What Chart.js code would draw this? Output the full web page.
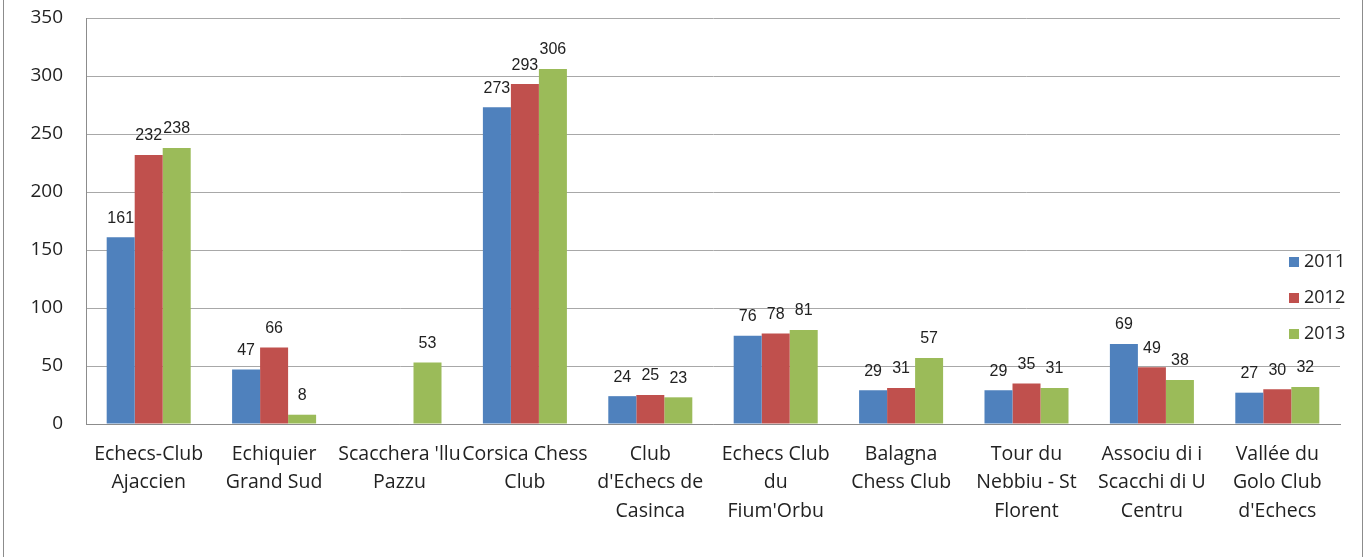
<!DOCTYPE html>
<html>
<head>
<meta charset="utf-8">
<script src="https://cdn.jsdelivr.net/npm/chart.js@4/dist/chart.umd.min.js"></script>
<style>
  html, body { margin: 0; padding: 0; background: #fff; }
  #wrap { position: relative; width: 1366px; height: 557px; }
  #frame { position: absolute; left: 3px; top: 0; width: 1358px; height: 557px;
           border-left: 1px solid #8c8c8c; border-right: 1px solid #8c8c8c; pointer-events: none; }
</style>
</head>
<body>
<div id="wrap">
  <canvas id="chess_canvas" width="1366" height="557"></canvas>
  <div id="frame"></div>
</div>
<script>
const clubs = [
  ["Echecs-Club", "Ajaccien"],
  ["Echiquier", "Grand Sud"],
  ["Scacchera 'llu", "Pazzu"],
  ["Corsica Chess", "Club"],
  ["Club", "d'Echecs de", "Casinca"],
  ["Echecs Club", "du", "Fium'Orbu"],
  ["Balagna", "Chess Club"],
  ["Tour du", "Nebbiu - St", "Florent"],
  ["Associu di i", "Scacchi di U", "Centru"],
  ["Vallée du", "Golo Club", "d'Echecs"]
];
const years = ["2011", "2012", "2013"];
const members2011 = [161, 47, null, 273, 24, 76, 29, 29, 69, 27];
const members2012 = [232, 66, null, 293, 25, 78, 31, 35, 49, 30];
const members2013 = [238, 8, 53, 306, 23, 81, 57, 31, 38, 32];
const colors = ["#4f81bd", "#c0504d", "#9bbb59"];

// values above each bar
const barLabels = {
  id: "barLabels",
  afterDatasetsDraw(chart) {
    const ctx = chart.ctx;
    ctx.save();
    ctx.font = "16px 'Liberation Sans', Arial, sans-serif";
    ctx.fillStyle = "#222";
    ctx.textAlign = "center";
    ctx.textBaseline = "middle";
    chart.data.datasets.forEach((ds, i) => {
      chart.getDatasetMeta(i).data.forEach((bar, j) => {
        const v = ds.data[j];
        if (v == null) return;
        ctx.fillText(String(v), bar.x, bar.y - 19);
      });
    });
    ctx.restore();
  }
};

// legend drawn inside the plot, on the right
const sideLegend = {
  id: "sideLegend",
  afterDraw(chart) {
    const ctx = chart.ctx;
    ctx.save();
    ctx.font = "18px 'Open Sans', sans-serif";
    ctx.textBaseline = "middle";
    ctx.textAlign = "left";
    chart.data.datasets.forEach((ds, i) => {
      const y = 262 + i * 36;
      ctx.fillStyle = ds.backgroundColor;
      ctx.fillRect(1289, y - 5, 10, 10);
      ctx.fillStyle = "#222";
      ctx.fillText(ds.label, 1304, y);
    });
    ctx.restore();
  }
};

const ctx = document.getElementById("chess_canvas");
new Chart(ctx, {
  type: "bar",
  data: {
    labels: clubs,
    datasets: [
      { label: years[0], data: members2011, backgroundColor: colors[0] },
      { label: years[1], data: members2012, backgroundColor: colors[1] },
      { label: years[2], data: members2013, backgroundColor: colors[2] }
    ]
  },
  options: {
    responsive: false,
    animation: false,
    layout: { padding: { left: 0, right: 26, top: 18, bottom: 0 } },
    datasets: { bar: { barPercentage: 1, categoryPercentage: 0.67 } },
    plugins: { legend: { display: false }, tooltip: { enabled: false } },
    scales: {
      x: {
        grid: { display: false },
        border: { display: true, color: "#8c8c8c", width: 1 },
        ticks: {
          autoSkip: false,
          maxRotation: 0,
          minRotation: 0,
          padding: 8,
          color: "#222",
          font: { family: "'Open Sans', sans-serif", size: 19.5, lineHeight: 1.46 }
        },
        afterFit: s => { s.height = 133; s.paddingTop = 0; }
      },
      y: {
        min: 0,
        max: 350,
        grid: { color: "#a8a8a8", drawTicks: false },
        border: { display: true, color: "#8c8c8c", width: 1 },
        ticks: {
          stepSize: 50,
          padding: 23,
          color: "#222",
          font: { family: "'Open Sans', sans-serif", size: 19 }
        },
        afterFit: s => { s.width = 86; s.paddingTop = 0; s.paddingBottom = 0; }
      }
    }
  },
  plugins: [barLabels, sideLegend]
});
</script>
</body>
</html>
